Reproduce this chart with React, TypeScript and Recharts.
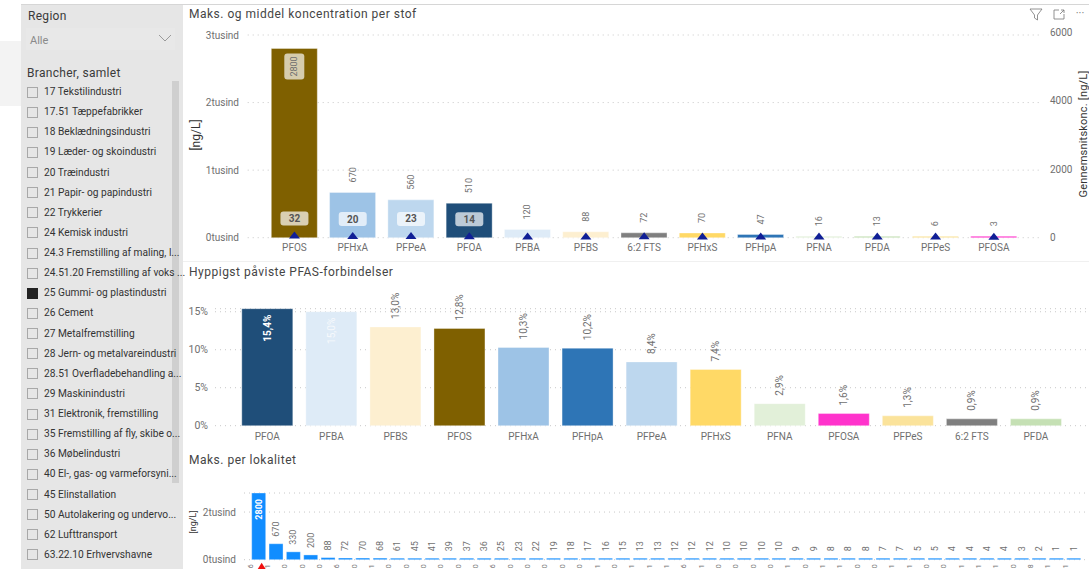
import { Bar, BarChart, CartesianGrid, Cell, ComposedChart, LabelList, Line, XAxis, YAxis } from "recharts"

const FONT = "Roboto, sans-serif"
const GREY = "#6f6f6f"

// Maks. og middel koncentration per stof
const stofNames = ["PFOS", "PFHxA", "PFPeA", "PFOA", "PFBA", "PFBS", "6:2 FTS", "PFHxS", "PFHpA", "PFNA", "PFDA", "PFPeS", "PFOSA"]
const stofMax = [2800, 670, 560, 510, 120, 88, 72, 70, 47, 16, 13, 6, 3]
const stofAvg = [32, 20, 23, 14, 9, 7, 10, 8, 6, 5, 4, 3, 2]
const stofColors = ["#7f6000", "#9dc3e6", "#bdd7ee", "#1f4e79", "#deebf7", "#fdefd0", "#7f7f7f", "#ffd966", "#2e75b6", "#e2f0d9", "#c5e0b4", "#fbe39b", "#ff33cc"]

// Hyppigst påviste PFAS-forbindelser
const freqNames = ["PFOA", "PFBA", "PFBS", "PFOS", "PFHxA", "PFHpA", "PFPeA", "PFHxS", "PFNA", "PFOSA", "PFPeS", "6:2 FTS", "PFDA"]
const freqValues = [15.4, 15.0, 13.0, 12.8, 10.3, 10.2, 8.4, 7.4, 2.9, 1.6, 1.3, 0.9, 0.9]
const freqColors = ["#1f4e79", "#deebf7", "#fdefd0", "#7f6000", "#9dc3e6", "#2e75b6", "#bdd7ee", "#ffd966", "#e2f0d9", "#ff33cc", "#fbe39b", "#7f7f7f", "#c5e0b4"]

// Maks. per lokalitet, only the last digit of each id fits above the page edge
const lokalMax = [2800, 670, 330, 200, 88, 72, 70, 68, 61, 45, 41, 39, 37, 36, 25, 23, 22, 19, 18, 17, 16, 15, 13, 13, 12, 12, 12, 10, 10, 10, 10, 9, 9, 8, 8, 8, 7, 7, 5, 5, 4, 4, 4, 4, 3, 2, 1, 1]
const lokalEnds = ["6", "1", "0", "0", "0", "6", "0", "1", "0", "0", "0", "0", "0", "0", "6", "0", "0", "0", "0", "0", "1", "0", "1", "1", "1", "6", "1", "0", "0", "0", "0", "1", "0", "1", "1", "0", "0", "1", "1", "0", "0", "1", "1", "1", "0", "8", "1", "1"]

const brancher = [
  "17 Tekstilindustri",
  "17.51 Tæppefabrikker",
  "18 Beklædningsindustri",
  "19 Læder- og skoindustri",
  "20 Træindustri",
  "21 Papir- og papindustri",
  "22 Trykkerier",
  "24 Kemisk industri",
  "24.3 Fremstilling af maling, l...",
  "24.51.20 Fremstilling af voks ...",
  "25 Gummi- og plastindustri",
  "26 Cement",
  "27 Metalfremstilling",
  "28 Jern- og metalvareindustri",
  "28.51 Overfladebehandling a...",
  "29 Maskinindustri",
  "31 Elektronik, fremstilling",
  "35 Fremstilling af fly, skibe o...",
  "36 Møbelindustri",
  "40 El-, gas- og varmeforsyni...",
  "45 Elinstallation",
  "50 Autolakering og undervo...",
  "62 Lufttransport",
  "63.22.10 Erhvervshavne",
]
const valgtBranche = "25 Gummi- og plastindustri"

const stofData = stofNames.map((name, i) => ({ name, max: stofMax[i], avg: stofAvg[i] }))
const freqData = freqNames.map((name, i) => ({ name, value: freqValues[i] }))
const lokalData = lokalMax.map((max, i) => ({ id: i, max, end: lokalEnds[i] }))

const tusind = (v: number) => `${v / 1000}tusind`
const pct = (v: number) => `${v.toFixed(1).replace(".", ",")}%`

const tickStyle = { fontFamily: FONT, fontSize: 10, fill: GREY }
const catStyle = { fontFamily: FONT, fontSize: 10, fill: GREY }
const gridDash = "1 4"
const barEdge = { stroke: "#fff", strokeOpacity: 0.35, strokeWidth: 1 }

function VerticalText({ x, y, anchor, children, fill = GREY, size = 9, weight = 400 }: any) {
  return (
    <text
      transform={`translate(${x},${y}) rotate(-90)`}
      textAnchor={anchor}
      dominantBaseline="central"
      fontFamily={FONT}
      fontSize={size}
      fontWeight={weight}
      fill={fill}
    >
      {children}
    </text>
  )
}

function StofMaxLabel({ x, y, width, value }: any) {
  const cx = x + width / 2
  if (value > 1000) {
    return (
      <g>
        <rect x={cx - 10} y={y + 5} width={20} height={26} rx={3} fill="#fff" fillOpacity={0.68} />
        <VerticalText x={cx} y={y + 18} anchor="middle">{value}</VerticalText>
      </g>
    )
  }
  return <VerticalText x={cx} y={y - 10} anchor="start">{value}</VerticalText>
}

// Only the larger means get a label, the small ones would overlap the axis
function AvgLabel({ x, y, value }: any) {
  if (value < 14) return null
  return (
    <g>
      <rect x={x - 14} y={y - 25} width={28} height={14} rx={3} fill="#fff" fillOpacity={0.7} />
      <text x={x} y={y - 18} textAnchor="middle" dominantBaseline="central" fontFamily={FONT} fontSize={10} fontWeight={700} fill="#555">
        {value}
      </text>
    </g>
  )
}

function Triangle({ cx, cy }: any) {
  return <path d={`M${cx - 5.5},${cy + 2} L${cx},${cy - 5} L${cx + 5.5},${cy + 2} Z`} fill="#101f96" stroke="none" />
}

// The right axis labels sit slightly above their gridlines
function RightTick({ x, y, payload }: any) {
  return (
    <text x={x} y={y - (payload.value / 6000) * 3} dominantBaseline="central" fontFamily={FONT} fontSize={10} fill={GREY}>
      {payload.value}
    </text>
  )
}

function FreqLabel({ x, y, width, value }: any) {
  const cx = x + width / 2
  if (value >= 15) {
    const fill = value > 15 ? "#ffffff" : "#f6f9fc"
    return <VerticalText x={cx} y={y + 6} anchor="end" fill={fill} size={10} weight={value > 15 ? 700 : 400}>{pct(value)}</VerticalText>
  }
  return <VerticalText x={cx} y={y - 8} anchor="start" size={10}>{pct(value)}</VerticalText>
}

function LokalLabel({ x, y, width, value }: any) {
  const cx = x + width / 2
  if (value > 1000) {
    return <VerticalText x={cx} y={y + 6} anchor="end" fill="#fff" weight={700}>{value}</VerticalText>
  }
  return <VerticalText x={cx} y={y - 7} anchor="start">{value}</VerticalText>
}

function LokalTick({ x, y, payload, index }: any) {
  const end = lokalData[payload.value]?.end
  return (
    <g>
      <VerticalText x={x - 8} y={y + 4.5} anchor="end" size={7}>{end}</VerticalText>
      {index === 0 && <path d={`M${x - 2},${y + 11} L${x + 3},${y + 3} L${x + 8},${y + 11} Z`} fill="#f01010" />}
    </g>
  )
}

function Sidebar() {
  return (
    <div style={{ position: "absolute", left: 21, top: 5, width: 162, height: 564, background: "#e6e6e6", color: "#333", fontFamily: FONT }}>
      <div style={{ position: "absolute", left: 7, top: 4, fontSize: 12, color: "#3a3a3a", letterSpacing: 0.3 }}>Region</div>
      <div style={{ position: "absolute", left: 5, top: 23, width: 149, height: 22, background: "#e8e8e8" }} />
      <div style={{ position: "absolute", left: 9, top: 29, fontSize: 11, color: "#8a8a8a" }}>Alle</div>
      <svg style={{ position: "absolute", left: 137, top: 29 }} width={14} height={9}>
        <path d="M1,1 L7,7 L13,1" fill="none" stroke="#9a9a9a" strokeWidth={1} />
      </svg>
      <div style={{ position: "absolute", left: 6, top: 61, fontSize: 12, color: "#3a3a3a", letterSpacing: 0.3 }}>Brancher, samlet</div>
      <div style={{ position: "absolute", left: 151, top: 76, width: 7, height: 402, background: "#cfcfcf" }} />
      {brancher.map((name, i) => {
        const top = 87 + i * 20.13
        const valgt = name === valgtBranche
        return (
          <div key={name}>
            <div
              style={{
                position: "absolute",
                left: 6,
                top: top - 5.5,
                width: 9,
                height: 9,
                border: valgt ? "1px solid #222" : "1px solid #a8a8a8",
                background: valgt ? "#222" : "transparent",
              }}
            />
            <div style={{ position: "absolute", left: 23, top: top - 7, fontSize: 10.2, lineHeight: "14px", whiteSpace: "nowrap" }}>{name}</div>
          </div>
        )
      })}
    </div>
  )
}

function Title({ top, children }: any) {
  return (
    <div style={{ position: "absolute", left: 189, top, fontFamily: FONT, fontSize: 12, lineHeight: "16px", letterSpacing: 0.5, color: "#454545", whiteSpace: "nowrap" }}>
      {children}
    </div>
  )
}

function Decorations() {
  return (
    <svg style={{ position: "absolute", left: 0, top: 0 }} width={1089} height={569}>
      <text transform="translate(196,135) rotate(-90)" textAnchor="middle" dominantBaseline="central" fontFamily={FONT} fontSize={12} fill="#333">[ng/L]</text>
      <text transform="translate(1083,134) rotate(-90)" textAnchor="middle" dominantBaseline="central" fontFamily={FONT} fontSize={11} fill="#333" letterSpacing={0.2}>Gennemsnitskonc. [ng/L]</text>
      <text transform="translate(193,522) rotate(-90)" textAnchor="middle" dominantBaseline="central" fontFamily={FONT} fontSize={9} fill="#333">[ng/L]</text>
      {/* visual header icons */}
      <path d="M1030,9 L1042,9 L1037.5,15 L1037.5,20 L1034.5,18 L1034.5,15 Z" fill="none" stroke="#777" strokeWidth={0.8} />
      <path d="M1059,10 L1054,10 L1054,19 L1064,19 L1064,14 M1060,14 L1064,10 M1061,10 L1064,10 L1064,13" fill="none" stroke="#777" strokeWidth={0.8} />
      <text x={1080} y={17} textAnchor="middle" fontFamily={FONT} fontSize={11} fill="#777">···</text>
    </svg>
  )
}

export default function App() {
  return (
    <div style={{ position: "absolute", left: 0, top: 0, width: 1089, height: 569, overflow: "hidden", background: "#fff" }}>
      <div style={{ position: "absolute", left: 0, top: 41, width: 21, height: 65, background: "#f3f3f3" }} />
      <div style={{ position: "absolute", left: 21, top: 4, width: 1068, height: 1, background: "#d6d6d6" }} />
      <div style={{ position: "absolute", left: 183, top: 261, width: 906, height: 1, background: "#f0f0f0" }} />
      <Sidebar />

      <Title top={6}>Maks. og middel koncentration per stof</Title>
      <Title top={264}>Hyppigst påviste PFAS-forbindelser</Title>
      <Title top={452}>Maks. per lokalitet</Title>

      <div style={{ position: "absolute", left: 0, top: 0 }}>
        <ComposedChart width={1089} height={260} data={stofData} margin={{ top: 35, right: 0, bottom: 0, left: 0 }} barCategoryGap={6}>
          <CartesianGrid vertical={false} yAxisId="left" stroke="#c8c8c8" strokeDasharray={gridDash} />
          <XAxis dataKey="name" height={22.3} interval={0} axisLine={false} tickLine={false} tickSize={0} tick={catStyle} tickMargin={6} padding={{ left: 17.6, right: 16 }} />
          <YAxis yAxisId="left" width={247.7} domain={[0, 3000]} ticks={[0, 1000, 2000, 3000]} tickFormatter={tusind} axisLine={false} tickLine={false} tickSize={0} tick={tickStyle} tickMargin={8.7} />
          <YAxis yAxisId="right" orientation="right" width={50} domain={[0, 6000]} ticks={[0, 2000, 4000, 6000]} axisLine={false} tickLine={false} tickSize={0} tick={<RightTick />} tickMargin={11} />
          <Bar yAxisId="left" dataKey="max" minPointSize={1.5} isAnimationActive={false} {...barEdge}>
            {stofColors.map((c) => <Cell key={c} fill={c} />)}
            <LabelList dataKey="max" content={<StofMaxLabel />} />
          </Bar>
          <Line yAxisId="right" dataKey="avg" stroke="none" dot={<Triangle />} activeDot={false} isAnimationActive={false}>
            <LabelList dataKey="avg" content={<AvgLabel />} />
          </Line>
        </ComposedChart>
      </div>

      <div style={{ position: "absolute", left: 0, top: 262 }}>
        <BarChart width={1089} height={190} data={freqData} margin={{ top: 46.7, right: 2, bottom: 6.3, left: 0 }} barCategoryGap={6.5}>
          <CartesianGrid vertical={false} stroke="#c8c8c8" strokeDasharray={gridDash} />
          <XAxis dataKey="name" height={20} interval={0} axisLine={false} tickLine={false} tickSize={0} tick={catStyle} tickMargin={7} padding={{ left: 20.3, right: 19 }} />
          <YAxis width={215} domain={[0, 15.4]} ticks={[0, 5, 10, 15]} tickFormatter={(v: number) => `${v}%`} axisLine={false} tickLine={false} tickSize={0} tick={{ ...tickStyle, fontSize: 10.5 }} tickMargin={7} />
          <Bar dataKey="value" isAnimationActive={false} {...barEdge}>
            {freqColors.map((c, i) => <Cell key={i} fill={c} />)}
            <LabelList dataKey="value" content={<FreqLabel />} />
          </Bar>
        </BarChart>
      </div>

      <div style={{ position: "absolute", left: 0, top: 470 }}>
        <BarChart width={1089} height={110} data={lokalData} margin={{ top: 23, right: 2, bottom: 0, left: 0 }} barCategoryGap={1.7}>
          <CartesianGrid vertical={false} stroke="#c8c8c8" strokeDasharray={gridDash} />
          <XAxis dataKey="id" height={20.3} interval={0} axisLine={false} tickLine={false} tickSize={0} tickMargin={0} tick={<LokalTick />} padding={{ left: 6, right: 4.6 }} />
          <YAxis width={244} domain={[0, 2800]} ticks={[0, 2000]} tickFormatter={tusind} axisLine={false} tickLine={false} tickSize={0} tick={tickStyle} tickMargin={8} />
          <Bar dataKey="max" fill="#118dff" minPointSize={1.5} isAnimationActive={false} {...barEdge}>
            <LabelList dataKey="max" content={<LokalLabel />} />
          </Bar>
        </BarChart>
      </div>

      <Decorations />
    </div>
  )
}
